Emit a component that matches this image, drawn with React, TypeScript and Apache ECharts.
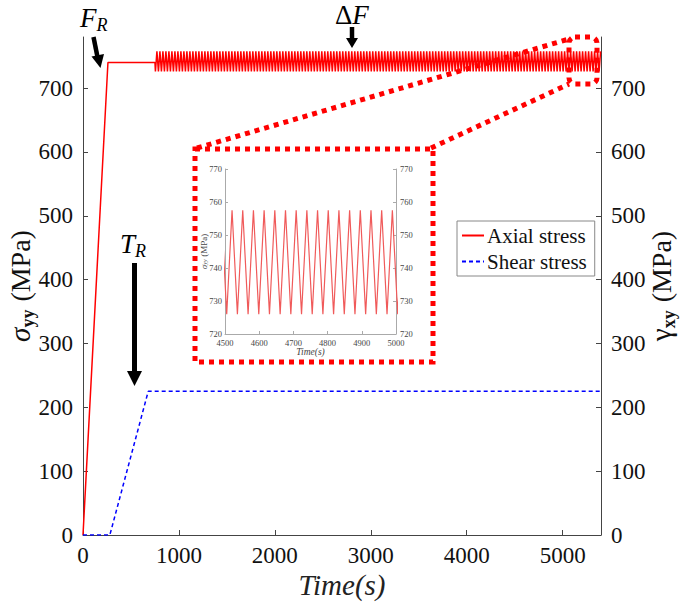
import React, { useEffect, useRef } from "react";
import * as echarts from "echarts";

// ---- data ----
// axial stress: ramp to the reference load, hold, then cyclic loading
const AXIAL_RAMP_TIME = [0, 260, 750];
const AXIAL_RAMP_STRESS = [0, 740, 740];
const CYCLE_FIRST_VALLEY_TIME = 755; // s
const CYCLE_PERIOD = 31.25; // s
const CYCLE_PEAK = 757.5; // MPa
const CYCLE_VALLEY = 726; // MPa
const END_TIME = 5400; // s

// shear stress
const SHEAR_TIME = [0, 280, 680, 5400];
const SHEAR_STRESS = [0, 0, 225, 225];

// axes
const X_TICKS = [0, 1000, 2000, 3000, 4000, 5000];
const Y_TICKS = [0, 100, 200, 300, 400, 500, 600, 700];
const INSET_X = [4500, 5000];
const INSET_Y = [720, 770];

const SERIF = "Liberation Serif";

function buildAxial(): number[][] {
  const pts: number[][] = AXIAL_RAMP_TIME.map((t, i) => [t, AXIAL_RAMP_STRESS[i]]);
  // repeat the cycle (valley -> peak)
  for (let t = CYCLE_FIRST_VALLEY_TIME; t <= END_TIME; t += CYCLE_PERIOD) {
    pts.push([t, CYCLE_VALLEY]);
    if (t + CYCLE_PERIOD / 2 <= END_TIME) pts.push([t + CYCLE_PERIOD / 2, CYCLE_PEAK]);
  }
  return pts;
}

const plain = (v: number) => String(v);

export default function App() {
  const ref = useRef<HTMLDivElement>(null);
  useEffect(() => {
    if (!ref.current) return;
    const chart = echarts.init(ref.current, null, { renderer: "svg" });
    const axial = buildAxial();
    const shear = SHEAR_TIME.map((t, i) => [t, SHEAR_STRESS[i]]);

    const mainAxisLine = { show: true, onZero: false, lineStyle: { color: "#444", width: 1 } };
    const mainTick = { show: true, inside: true, length: 5, lineStyle: { color: "#444" } };
    const mainLabel = { fontSize: 23, fontFamily: SERIF, color: "#111", showMaxLabel: false, formatter: plain };

    const insetAxisLine = { show: true, onZero: false, lineStyle: { color: "#aaa", width: 1 } };
    const insetTick = { show: true, inside: true, length: 3, lineStyle: { color: "#aaa" } };
    const insetLabel = { fontSize: 8.5, fontFamily: SERIF, color: "#444", formatter: plain };

    const nameRich = (italicFirst: boolean) => ({
      s: { fontSize: 29, fontFamily: SERIF, fontStyle: italicFirst ? "italic" : "normal", color: "#111", lineHeight: 34 },
      sub: { fontSize: 18, fontFamily: SERIF, fontWeight: "bold", color: "#111", verticalAlign: "bottom", lineHeight: 18 },
      t: { fontSize: 28, fontFamily: SERIF, color: "#111", lineHeight: 34, padding: [0, 0, 0, 8] },
    });

    const arrowStyle = { stroke: "#000", lineWidth: 4.5 };
    const dotted = { fill: "none", stroke: "#ff0000", lineWidth: 5, lineDash: [5, 5] };
    const annoRich = {
      i: { fontSize: 27, fontFamily: SERIF, fontStyle: "italic", color: "#111" },
      u: { fontSize: 27, fontFamily: SERIF, color: "#111" },
      r: { fontSize: 18, fontFamily: SERIF, fontStyle: "italic", color: "#111", padding: [14, 0, 0, 0] },
    };

    chart.setOption({
      animation: false,
      backgroundColor: "#fff",
      textStyle: { fontFamily: SERIF },
      grid: [
        { left: 83, right: 84, top: 37, bottom: 70, containLabel: false, outerBoundsMode: "none" },
        { left: 225, top: 169, width: 171, height: 165, containLabel: false, outerBoundsMode: "none" },
      ],
      legend: {
        data: ["Axial stress", "Shear stress"],
        orient: "vertical",
        left: 457,
        top: 221,
        itemWidth: 22,
        itemHeight: 10,
        itemGap: 5,
        padding: [4, 8, 4, 4],
        borderColor: "#888",
        borderWidth: 1,
        borderRadius: 0,
        backgroundColor: "#fff",
        itemStyle: { opacity: 0 },
        textStyle: { fontSize: 21, fontFamily: SERIF, color: "#111", padding: [0, 0, 0, -2] },
      },
      xAxis: [
        {
          gridIndex: 0,
          type: "value",
          min: X_TICKS[0],
          max: END_TIME,
          interval: X_TICKS[1] - X_TICKS[0],
          axisLine: mainAxisLine,
          axisTick: mainTick,
          axisLabel: { ...mainLabel, margin: 9 },
          splitLine: { show: false },
          name: "Time(s)",
          nameLocation: "middle",
          nameGap: 35,
          nameMoveOverlap: false,
          nameTextStyle: { fontSize: 29, fontStyle: "italic", fontFamily: SERIF, color: "#222" },
        },
        {
          gridIndex: 1,
          type: "value",
          min: INSET_X[0],
          max: INSET_X[1],
          interval: 100,
          axisLine: insetAxisLine,
          axisTick: insetTick,
          axisLabel: { ...insetLabel, margin: 4 },
          splitLine: { show: false },
          name: "Time(s)",
          nameLocation: "middle",
          nameGap: 13,
          nameMoveOverlap: false,
          nameTextStyle: { fontSize: 9.5, fontStyle: "italic", fontFamily: SERIF, color: "#444" },
        },
      ],
      yAxis: [
        {
          gridIndex: 0,
          type: "value",
          position: "left",
          min: Y_TICKS[0],
          max: 780,
          interval: Y_TICKS[1] - Y_TICKS[0],
          axisLine: mainAxisLine,
          axisTick: mainTick,
          axisLabel: { ...mainLabel, margin: 10 },
          splitLine: { show: false },
          name: "{s|σ}{sub|yy}{t|(MPa)}",
          nameLocation: "middle",
          nameRotate: 90,
          nameGap: 46,
          nameMoveOverlap: false,
          nameTextStyle: { rich: nameRich(true) },
        },
        {
          gridIndex: 0,
          type: "value",
          position: "right",
          min: Y_TICKS[0],
          max: 780,
          interval: Y_TICKS[1] - Y_TICKS[0],
          axisLine: mainAxisLine,
          axisTick: mainTick,
          axisLabel: { ...mainLabel, margin: 10 },
          splitLine: { show: false },
          name: "{s|γ}{sub|xy}{t|(MPa)}",
          nameLocation: "middle",
          nameRotate: 90,
          nameGap: 43,
          nameMoveOverlap: false,
          nameTextStyle: { rich: nameRich(false) },
        },
        {
          gridIndex: 1,
          type: "value",
          position: "left",
          min: INSET_Y[0],
          max: INSET_Y[1],
          interval: 10,
          axisLine: insetAxisLine,
          axisTick: insetTick,
          axisLabel: { ...insetLabel, margin: 3 },
          splitLine: { show: false },
          name: "{s|σ}{sub|yy}{t| (MPa)}",
          nameLocation: "middle",
          nameRotate: 90,
          nameGap: 17,
          nameMoveOverlap: false,
          nameTextStyle: {
            rich: {
              s: { fontSize: 9, fontFamily: SERIF, fontStyle: "italic", color: "#444" },
              sub: { fontSize: 6.5, fontFamily: SERIF, fontStyle: "italic", color: "#444", verticalAlign: "bottom" },
              t: { fontSize: 9, fontFamily: SERIF, color: "#444" },
            },
          },
        },
        {
          gridIndex: 1,
          type: "value",
          position: "right",
          min: INSET_Y[0],
          max: INSET_Y[1],
          interval: 10,
          axisLine: insetAxisLine,
          axisTick: insetTick,
          axisLabel: { ...insetLabel, margin: 4 },
          splitLine: { show: false },
        },
      ],
      series: [
        {
          type: "line",
          name: "Axial stress",
          xAxisIndex: 0,
          yAxisIndex: 0,
          data: axial,
          symbol: "none",
          color: "#ff0000",
          lineStyle: { color: "#ff0000", width: 1.5 },
          z: 3,
        },
        {
          type: "line",
          name: "Shear stress",
          xAxisIndex: 0,
          yAxisIndex: 1,
          data: shear,
          symbol: "none",
          color: "#0000ff",
          lineStyle: { color: "#0000ff", width: 1.5, type: [4, 3] },
          z: 3,
        },
        {
          type: "line",
          name: "Axial stress (detail)",
          xAxisIndex: 1,
          yAxisIndex: 2,
          data: axial.filter((p) => p[0] >= INSET_X[0] - 40 && p[0] <= INSET_X[1] + 40),
          symbol: "none",
          color: "#f05a5a",
          lineStyle: { color: "#f05a5a", width: 1.2 },
          clip: true,
        },
      ],
      graphic: [
        { type: "rect", shape: { x: 195, y: 149, width: 238, height: 213 }, style: dotted, z: 10 },
        { type: "rect", shape: { x: 569, y: 37, width: 28, height: 47, r: 6 }, style: dotted, z: 10 },
        { type: "line", shape: { x1: 197, y1: 148, x2: 569, y2: 39 }, style: dotted, z: 10 },
        { type: "line", shape: { x1: 431, y1: 148, x2: 569, y2: 84 }, style: dotted, z: 10 },
        // F_R arrow
        { type: "line", shape: { x1: 93.5, y1: 37, x2: 97.5, y2: 57 }, style: arrowStyle, z: 10 },
        { type: "polygon", shape: { points: [[91.5, 56.5], [104, 54], [100.5, 68]] }, style: { fill: "#000" }, z: 10 },
        // ΔF arrow
        { type: "line", shape: { x1: 352, y1: 27, x2: 352, y2: 40 }, style: arrowStyle, z: 10 },
        { type: "polygon", shape: { points: [[346, 38], [358, 38], [352, 48]] }, style: { fill: "#000" }, z: 10 },
        // T_R arrow
        { type: "line", shape: { x1: 134.5, y1: 263, x2: 134.5, y2: 373 }, style: { stroke: "#000", lineWidth: 5 }, z: 10 },
        { type: "polygon", shape: { points: [[127, 371], [142, 371], [134.5, 386]] }, style: { fill: "#000" }, z: 10 },
        // labels
        { type: "text", x: 80, y: 2, style: { text: "{i|F}{r|R}", rich: annoRich }, z: 10 },
        { type: "text", x: 335, y: 1, style: { text: "{u|Δ}{i|F}", rich: annoRich }, z: 10 },
        { type: "text", x: 120, y: 228, style: { text: "{i|T}{r|R}", rich: annoRich }, z: 10 },
      ],
    });
    return () => chart.dispose();
  }, []);
  return <div ref={ref} style={{ width: 685, height: 605, position: "absolute", left: 0, top: 0 }} />;
}
